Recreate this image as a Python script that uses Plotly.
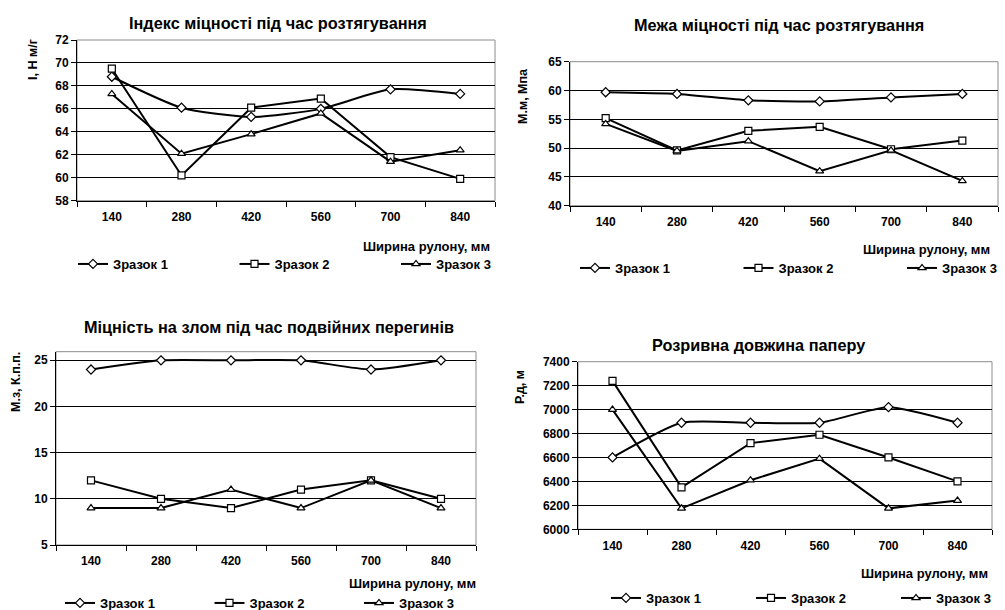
import plotly.graph_objects as go

# Roll width categories (mm)
widths = ["140", "280", "420", "560", "700", "840"]
sample_names = ["Зразок 1", "Зразок 2", "Зразок 3"]

# Tensile strength index, I, N m/g
index_s1 = [68.8, 66.1, 65.3, 66.0, 67.7, 67.3]
index_s2 = [69.5, 60.2, 66.1, 66.9, 61.8, 59.9]
index_s3 = [67.3, 62.1, 63.8, 65.6, 61.4, 62.4]

# Tensile strength limit, MPa
limit_s1 = [59.7, 59.4, 58.3, 58.1, 58.8, 59.4]
limit_s2 = [55.2, 49.6, 53.0, 53.7, 49.8, 51.3]
limit_s3 = [54.2, 49.5, 51.2, 46.0, 49.6, 44.3]

# Folding endurance (double folds)
fold_s1 = [24, 25, 25, 25, 24, 25]
fold_s2 = [12, 10, 9, 11, 12, 10]
fold_s3 = [9, 9, 11, 9, 12, 9]

# Breaking length of paper, m
length_s1 = [6600, 6890, 6890, 6890, 7020, 6890]
length_s2 = [7240, 6350, 6720, 6790, 6600, 6400]
length_s3 = [7000, 6175, 6410, 6590, 6175, 6240]

FONT = "Liberation Sans, Arial, sans-serif"
W, H = 1005, 610

panels = [
    dict(series=[index_s1, index_s2, index_s3], title="Індекс міцності під час розтягування",
         ytitle="І, Н м/г", yrange=[58, 72], dtick=2,
         px=(77, 495), py=(40, 200.7),
         title_xy=(278, 23), ytitle_xy=(33, 60), xtitle_xy=(492, 246),
         legend_xy=(73, 264), entry=161.5),
    dict(series=[limit_s1, limit_s2, limit_s3], title="Межа міцності під час розтягування",
         ytitle="М.м, Мпа", yrange=[40, 65], dtick=5,
         px=(570, 998), py=(61.7, 205.7),
         title_xy=(779, 25), ytitle_xy=(523, 96), xtitle_xy=(992, 249),
         legend_xy=(575, 268), entry=163.5),
    dict(series=[fold_s1, fold_s2, fold_s3], title="Міцність на злом під час подвійних перегинів",
         ytitle="М.з, К.п.п.", yrange=[5, 25.93], dtick=5,
         px=(56, 476), py=(351.7, 545),
         title_xy=(269, 327), ytitle_xy=(16, 382), xtitle_xy=(478, 583),
         legend_xy=(60, 603), entry=149.5),
    dict(series=[length_s1, length_s2, length_s3], title="Розривна довжина паперу",
         ytitle="Р.д, м", yrange=[6000, 7400], dtick=200,
         px=(578, 992), py=(361.7, 529.3),
         title_xy=(758, 345), ytitle_xy=(520, 387), xtitle_xy=(990, 573),
         legend_xy=(606, 598), entry=145),
]

symbols = ["diamond", "square", "triangle-up"]
shapes_line = ["spline", "linear", "linear"]

fig = go.Figure()
layout = dict(
    width=W, height=H, margin=dict(l=0, r=0, t=0, b=0, autoexpand=False),
    paper_bgcolor="white", plot_bgcolor="white",
    font=dict(family=FONT, size=12, color="black", weight="bold"),
    annotations=[], shapes=[],
)

for i, p in enumerate(panels):
    n = "" if i == 0 else str(i + 1)
    xa, ya = "x" + n, "y" + n
    leg = "legend" + n
    for k, vals in enumerate(p["series"]):
        fig.add_trace(go.Scatter(
            x=widths, y=vals, name=sample_names[k], xaxis=xa, yaxis=ya, legend=leg,
            mode="lines+markers",
            line=dict(color="black", width=2, shape=shapes_line[k], smoothing=0.6),
            marker=dict(symbol=symbols[k], size=7, color="white",
                        line=dict(color="black", width=1.2)),
            cliponaxis=False,
        ))
    x0, x1 = p["px"]
    t0, t1 = p["py"]
    layout["xaxis" + n] = dict(
        domain=[x0 / W, x1 / W], anchor=ya, type="category", range=[-0.5, 5.5],
        showline=True, linecolor="black", linewidth=1, ticks="outside", tickson="boundaries",
        ticklen=5, tickcolor="black", showgrid=False, ticklabelstandoff=5,
        tickfont=dict(size=12, family=FONT, weight="bold"), fixedrange=True,
    )
    layout["yaxis" + n] = dict(
        domain=[1 - t1 / H, 1 - t0 / H], anchor=xa, range=p["yrange"], dtick=p["dtick"],
        tick0=p["yrange"][0],
        showline=True, linecolor="black", linewidth=1, ticks="outside", ticklen=5,
        tickcolor="black", showgrid=True, gridcolor="black", gridwidth=1, zeroline=False,
        tickfont=dict(size=12, family=FONT, weight="bold"), fixedrange=True,
    )
    # grey plot-area frame
    layout["shapes"].append(dict(
        type="rect", xref=xa + " domain", yref=ya + " domain", x0=0, x1=1, y0=0, y1=1,
        line=dict(color="#8c8c8c", width=1), layer="below",
    ))
    tx, ty = p["title_xy"]
    layout["annotations"].append(dict(
        text=p["title"], x=tx / W, y=1 - ty / H, xref="paper", yref="paper",
        xanchor="center", yanchor="middle", showarrow=False,
        font=dict(size=16.3, family=FONT, weight="bold"),
    ))
    yx, yy = p["ytitle_xy"]
    layout["annotations"].append(dict(
        text=p["ytitle"], x=yx / W, y=1 - yy / H, xref="paper", yref="paper",
        xanchor="center", yanchor="middle", textangle=-90, showarrow=False,
        font=dict(size=12.5, family=FONT, weight="bold"),
    ))
    xx, xy = p["xtitle_xy"]
    layout["annotations"].append(dict(
        text="Ширина рулону, мм", x=xx / W, y=1 - xy / H, xref="paper", yref="paper",
        xanchor="right", yanchor="middle", showarrow=False,
        font=dict(size=13, family=FONT, weight="bold"),
    ))
    lx, ly = p["legend_xy"]
    layout[leg] = dict(
        orientation="h", x=lx / W, y=1 - ly / H, xanchor="left", yanchor="middle",
        xref="paper", yref="paper", bgcolor="rgba(0,0,0,0)", borderwidth=0,
        entrywidth=p["entry"] - 45, entrywidthmode="pixels", itemwidth=30,
        font=dict(size=13, family=FONT, weight="bold"), tracegroupgap=0,
        itemclick=False, itemdoubleclick=False,
    )

fig.update_layout(**layout)
fig.write_html("out.html", config={"displayModeBar": False})
